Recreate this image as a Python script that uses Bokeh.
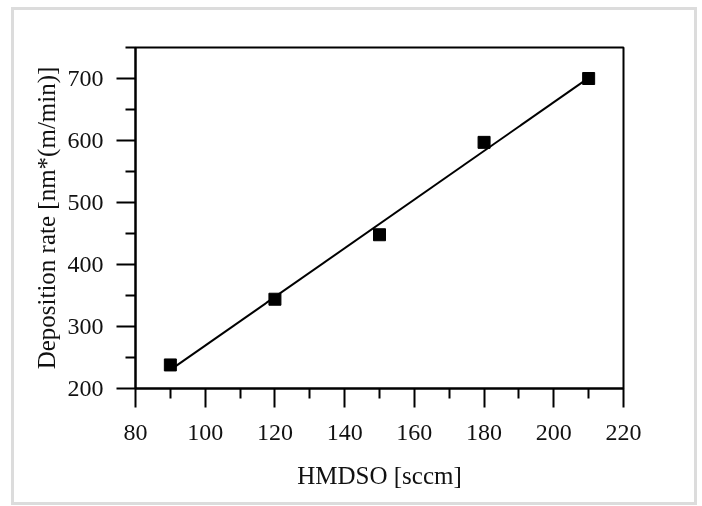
from bokeh.plotting import figure
from bokeh.embed import file_html
from bokeh.resources import INLINE
from bokeh.models import Range1d, FixedTicker

# Data
hmdso = [90, 120, 150, 180, 210]
dep_rate = [238, 344, 448, 597, 700]
fit_x = [90, 210]
fit_y = [230, 701]

x_ticks = [80, 100, 120, 140, 160, 180, 200, 220]
x_minor = [90, 110, 130, 150, 170, 190, 210]
y_ticks = [200, 300, 400, 500, 600, 700]
y_minor = [250, 350, 450, 550, 650, 750]

FONT = "Liberation Serif"
TXT = "#111111"

p = figure(
    output_backend="svg", toolbar_location=None,
    frame_width=488, frame_height=341,
    min_border_left=121, min_border_right=71,
    min_border_top=37, min_border_bottom=114,
    x_range=Range1d(80, 220), y_range=Range1d(200, 750),
)
p.styles = {"position": "fixed", "top": "7px", "left": "11px",
            "border": "3px solid #dcdcdc"}

p.grid.visible = False
p.background_fill_color = "white"
p.border_fill_color = "white"
p.outline_line_color = "black"
p.outline_line_width = 2
p.outline_line_alpha = 1.0

p.line(fit_x, fit_y, line_color="black", line_width=2)
p.scatter(hmdso, dep_rate, marker="square", size=12, fill_color="black", line_color="black")

for ax, major, minor in ((p.xaxis[0], x_ticks, x_minor), (p.yaxis[0], y_ticks, y_minor)):
    ax.ticker = FixedTicker(ticks=major, minor_ticks=minor)
    ax.axis_line_color = "black"
    ax.axis_line_width = 2
    ax.major_tick_line_color = "black"
    ax.major_tick_line_width = 2
    ax.minor_tick_line_color = "black"
    ax.minor_tick_line_width = 2
    ax.major_tick_out = 19
    ax.major_tick_in = 0
    ax.minor_tick_out = 10
    ax.minor_tick_in = 0
    ax.major_label_text_font = FONT
    ax.major_label_text_font_size = "24px"
    ax.major_label_text_color = TXT
    ax.axis_label_text_font = FONT
    ax.axis_label_text_font_size = "25px"
    ax.axis_label_text_font_style = "normal"
    ax.axis_label_text_color = TXT

p.xaxis.axis_label = "HMDSO [sccm]"
p.yaxis.axis_label = "Deposition rate [nm*(m/min)]"
p.xaxis.major_label_standoff = 17
p.yaxis.major_label_standoff = 13
p.xaxis.axis_label_standoff = 19
p.yaxis.axis_label_standoff = 5

open("out.html", "w").write(file_html(p, INLINE))
